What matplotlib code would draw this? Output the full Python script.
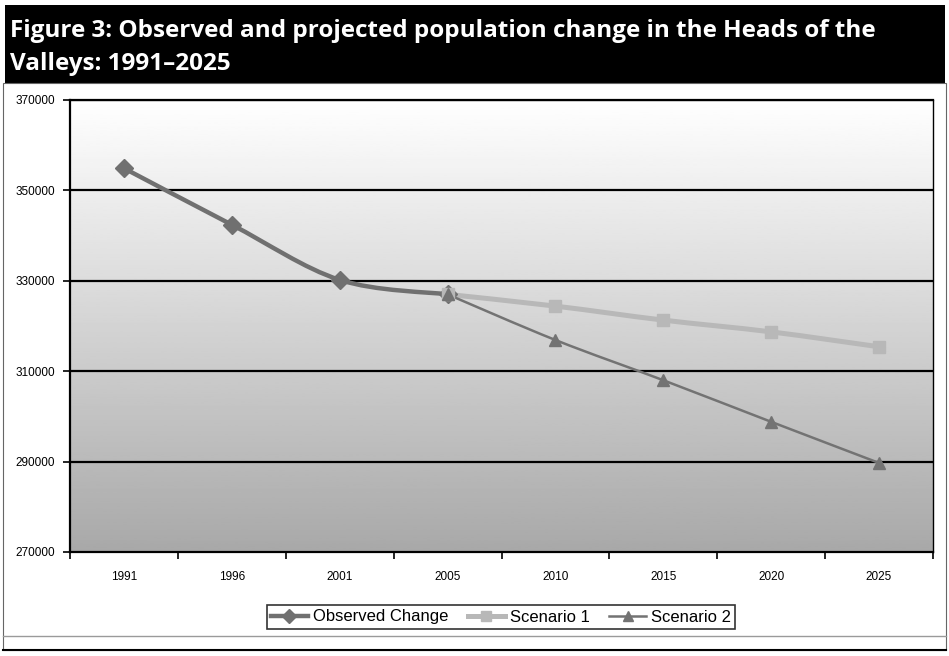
import numpy as np
import matplotlib
matplotlib.use("Agg")
import matplotlib.pyplot as plt
from matplotlib.path import Path
from matplotlib.patches import PathPatch, Rectangle
from matplotlib.lines import Line2D

years = ["1991", "1996", "2001", "2005", "2010", "2015", "2020", "2025"]
observed = [354900, 342400, 330200, 327000]
scenario1 = [327000, 324400, 321300, 318700, 315400]
scenario2 = [327000, 316900, 308000, 298800, 289700]
y_ticks = [270000, 290000, 310000, 330000, 350000, 370000]

W, H = 949, 656
fig = plt.figure(figsize=(W / 100, H / 100), dpi=100)
fig.patch.set_facecolor("white")

# title bar
fig.add_artist(Rectangle((5 / W, 1 - 83 / H), 940 / W, 78 / H, transform=fig.transFigure,
                         facecolor="black", edgecolor="none"))
title_font = dict(color="white", fontsize=17.5, fontweight="bold", family="Open Sans",
                  transform=fig.transFigure, ha="left", va="baseline")
fig.text(10 / W, 1 - 37 / H, "Figure 3: Observed and projected population change in the Heads of the", **title_font)
fig.text(10 / W, 1 - 70 / H, "Valleys: 1991\u20132025", **title_font)

# chart frame
fig.add_artist(Rectangle((3 / W, 1 - 650 / H), 943 / W, 567 / H, transform=fig.transFigure,
                         facecolor="none", edgecolor="#666666", lw=0.8))
fig.add_artist(Line2D([3 / W, 946 / W], [1 - 636 / H, 1 - 636 / H], transform=fig.transFigure,
                      color="#9a9a9a", lw=1))
fig.add_artist(Line2D([3 / W, 946 / W], [1 - 650 / H, 1 - 650 / H], transform=fig.transFigure,
                      color="black", lw=1.5))

ax = fig.add_axes([70 / W, 1 - 552 / H, 863 / W, 452 / H])
ax.set_xlim(-0.5, len(years) - 0.5)
ax.set_ylim(y_ticks[0], y_ticks[-1])

# vertical grey gradient behind the plot
grad = np.linspace(0.66, 1.0, 256).reshape(-1, 1)
ax.imshow(grad, cmap="gray", vmin=0, vmax=1, origin="lower", aspect="auto",
          extent=[-0.5, len(years) - 0.5, y_ticks[0], y_ticks[-1]], zorder=0)

for v in y_ticks[1:-1]:
    ax.axhline(v, color="black", lw=1.6, zorder=1)
ax.axhline(y_ticks[-1], color="black", lw=1.6, zorder=1)


def smooth_path(xs, ys):
    pts = np.column_stack([xs, ys]).astype(float)
    n = len(pts)
    verts = [pts[0]]
    codes = [Path.MOVETO]
    for i in range(n - 1):
        p0 = pts[i - 1] if i > 0 else pts[i]
        p1, p2 = pts[i], pts[i + 1]
        p3 = pts[i + 2] if i + 2 < n else pts[i + 1]
        c1 = p1 + (p2 - p0) / 6.0
        c2 = p2 - (p3 - p1) / 6.0
        verts += [c1, c2, p2]
        codes += [Path.CURVE4] * 3
    return Path(verts, codes)


def draw_series(xs, ys, color, lw, marker, ms, label):
    ax.add_patch(PathPatch(smooth_path(xs, ys), facecolor="none", edgecolor=color,
                           lw=lw, capstyle="round", joinstyle="round", zorder=3))
    ax.plot(xs, ys, linestyle="none", marker=marker, markersize=ms, color=color,
            markeredgecolor=color, zorder=4)
    return Line2D([], [], color=color, lw=lw, marker=marker, markersize=ms * 0.8, label=label)


x_obs = np.arange(len(observed))
x_proj = np.arange(3, 3 + len(scenario1))
h1 = draw_series(x_obs, observed, "#707070", 3.2, "D", 9, "Observed Change")
h2 = draw_series(x_proj, scenario1, "#b8b8b8", 3.6, "s", 8.5, "Scenario 1")
h3 = draw_series(x_proj, scenario2, "#737373", 1.8, "^", 9, "Scenario 2")

ax.set_yticks(y_ticks)
ax.set_yticklabels([str(v) for v in y_ticks], fontsize=8.5, family="Liberation Sans")
ax.set_xticks(np.arange(len(years)))
ax.set_xticklabels(years, fontsize=8.5, family="Liberation Sans")
ax.set_xticks(np.arange(len(years) + 1) - 0.5, minor=True)
ax.tick_params(axis="x", which="major", length=0, pad=14)
ax.tick_params(axis="x", which="minor", length=5, width=1.2, color="black")
ax.tick_params(axis="y", length=5, width=1.2, pad=6)
for side in ["left", "bottom"]:
    ax.spines[side].set_linewidth(1.6)
for side in ["right", "top"]:
    ax.spines[side].set_visible(False)
ax.spines["right"].set_visible(True)
ax.spines["right"].set_linewidth(1.0)
ax.spines["top"].set_visible(True)
ax.spines["top"].set_linewidth(1.6)

leg = fig.legend(handles=[h1, h2, h3], loc="center", bbox_to_anchor=(501 / W, 1 - 617 / H),
                 ncol=3, frameon=True, fancybox=False, edgecolor="black",
                 prop={"family": "Liberation Sans", "size": 12}, handlelength=2.2,
                 handletextpad=0.3, columnspacing=1.2, borderpad=0.25)
leg.get_frame().set_linewidth(1.2)

fig.savefig("out.png", dpi=100, facecolor="white")
